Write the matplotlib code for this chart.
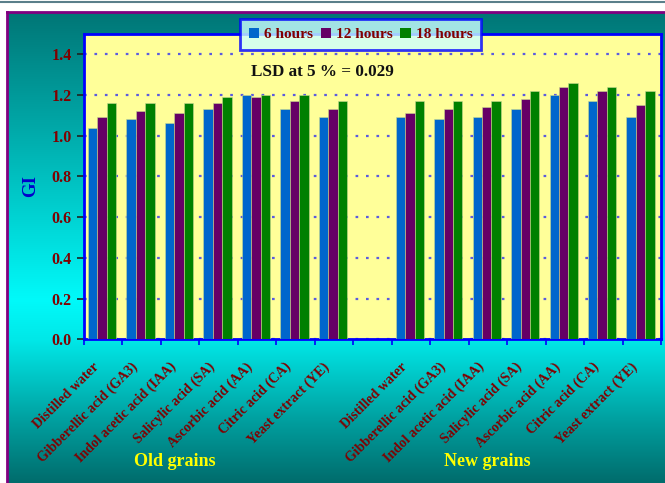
import matplotlib
matplotlib.use("Agg")
import matplotlib.pyplot as plt
import matplotlib.transforms as mtransforms
import numpy as np
from matplotlib.patches import Patch

plt.rcParams['font.family'] = ['Liberation Serif', 'DejaVu Serif']
plt.rcParams['font.weight'] = 'bold'

treatments = ["Distilled water", "Gibberellic acid (GA3)", "Indol acetic acid (IAA)",
              "Salicylic acid (SA)", "Ascorbic acid (AA)", "Citric acid (CA)",
              "Yeast extract (YE)"]
series_names = ["6 hours", "12 hours", "18 hours"]
series_colors = ["#0066cc", "#660066", "#008000"]

# GI values, old grains then new grains
old_6h = [1.04, 1.08, 1.06, 1.13, 1.20, 1.13, 1.09]
old_12h = [1.09, 1.12, 1.11, 1.16, 1.19, 1.17, 1.13]
old_18h = [1.16, 1.16, 1.16, 1.19, 1.20, 1.20, 1.17]
new_6h = [1.09, 1.08, 1.09, 1.13, 1.20, 1.17, 1.09]
new_12h = [1.11, 1.13, 1.14, 1.18, 1.24, 1.22, 1.15]
new_18h = [1.17, 1.17, 1.17, 1.22, 1.26, 1.24, 1.22]

group_names = ["Old grains", "New grains"]
lsd_text = "LSD at 5 % = 0.029"

W, H = 665, 483
fig = plt.figure(figsize=(W / 100, H / 100), dpi=100, facecolor="white")

# teal gradient panel behind the chart
bg = fig.add_axes([7 / W, 0, 1 - 7 / W, (H - 12) / H], zorder=0)
rows = np.arange(12, H + 1)
stops_y = [12, 120, 300, 340, 420, 483]
stops_g = [118, 165, 250, 232, 160, 108]
g = np.interp(rows, stops_y, stops_g) / 255.0
grad = np.zeros((len(rows), 1, 3))
grad[:, 0, 1] = g
grad[:, 0, 2] = g
bg.imshow(grad, aspect="auto", extent=[0, 1, 0, 1], origin="upper")
bg.set_xticks([])
bg.set_yticks([])
for side in ["right", "bottom"]:
    bg.spines[side].set_visible(False)
for side in ["left", "top"]:
    bg.spines[side].set_color("#800080")
    bg.spines[side].set_linewidth(2)
fig.add_artist(plt.Line2D([0, 1], [1 - 1.5 / H, 1 - 1.5 / H], color="#5a7f8a", lw=1.5))

ax = fig.add_axes([84 / W, (H - 339.3) / H, 577 / W, 305.4 / H], zorder=2)
ax.set_facecolor("#ffff99")

values = [old_6h + [np.nan] + new_6h,
          old_12h + [np.nan] + new_12h,
          old_18h + [np.nan] + new_18h]
x = np.arange(15)
width = 0.245
for i, (vals, color, name) in enumerate(zip(values, series_colors, series_names)):
    ax.bar(x + (i - 1) * width - 0.03, vals, width, color=color, label=name,
           edgecolor="#c8d890", linewidth=0.4, zorder=3)

ax.set_xlim(-0.5, 14.5)
ax.set_ylim(0, 1.5)
ax.set_yticks(np.arange(0, 1.41, 0.2))
ax.set_yticklabels([f"{v:.1f}" for v in np.arange(0, 1.41, 0.2)],
                   color="#800000", fontsize=11.5, fontweight="bold")
ax.yaxis.grid(True, color="#5a5ae0", linestyle=(0, (1.2, 3.5)), linewidth=1.6, zorder=1)
ax.set_axisbelow(True)

labels = treatments + [""] + treatments
ax.set_xticks(x)
ax.set_xticklabels(labels, rotation=45, ha="right", rotation_mode="anchor",
                   color="#800000", fontsize=10, fontweight="bold")
ax.tick_params(axis="x", which="major", length=0, pad=15)
shift = mtransforms.ScaledTranslation(-11 / 100, 0, fig.dpi_scale_trans)
for lbl in ax.get_xticklabels():
    lbl.set_transform(lbl.get_transform() + shift)
ax.set_xticks(np.arange(-0.5, 15, 1), minor=True)
ax.tick_params(axis="x", which="minor", length=4, color="#0000ff", width=1.2)
ax.tick_params(axis="y", length=5, color="#202020", width=1.2, pad=4)

for side in ["left", "right", "top", "bottom"]:
    ax.spines[side].set_color("#0000ff")
    ax.spines[side].set_linewidth(2)

fig.text(31 / W, 1 - 186 / H, "GI", rotation=90, color="#0000cc", fontsize=13.5,
         fontweight="bold", ha="center", va="center")

ax.text(0.414, 0.876, lsd_text, transform=ax.transAxes, ha="center", va="center",
        fontsize=12.3, fontweight="bold", color="#111111", zorder=5)

fig.text(175 / W, 1 - 461 / H, group_names[0], color="#ffff00", fontsize=13,
         fontweight="bold", ha="center", va="center")
fig.text(487 / W, 1 - 461 / H, group_names[1], color="#ffff00", fontsize=13,
         fontweight="bold", ha="center", va="center")

handles = [Patch(facecolor=c, edgecolor="none") for c in series_colors]
leg = fig.legend(handles, series_names, ncol=3, loc="center",
                 bbox_to_anchor=(360.5 / W, 1 - 34.5 / H), frameon=True,
                 fontsize=11, handlelength=0.7, handleheight=0.7, handletextpad=0.3,
                 columnspacing=0.5, borderpad=0.55, fancybox=False)
leg.get_frame().set_facecolor("#ccffff")
leg.get_frame().set_edgecolor("#0000ff")
leg.get_frame().set_linewidth(2)
leg.set_zorder(10)
for t in leg.get_texts():
    t.set_color("#800000")
    t.set_fontweight("bold")

fig.savefig("out.png", dpi=100, facecolor=fig.get_facecolor())
